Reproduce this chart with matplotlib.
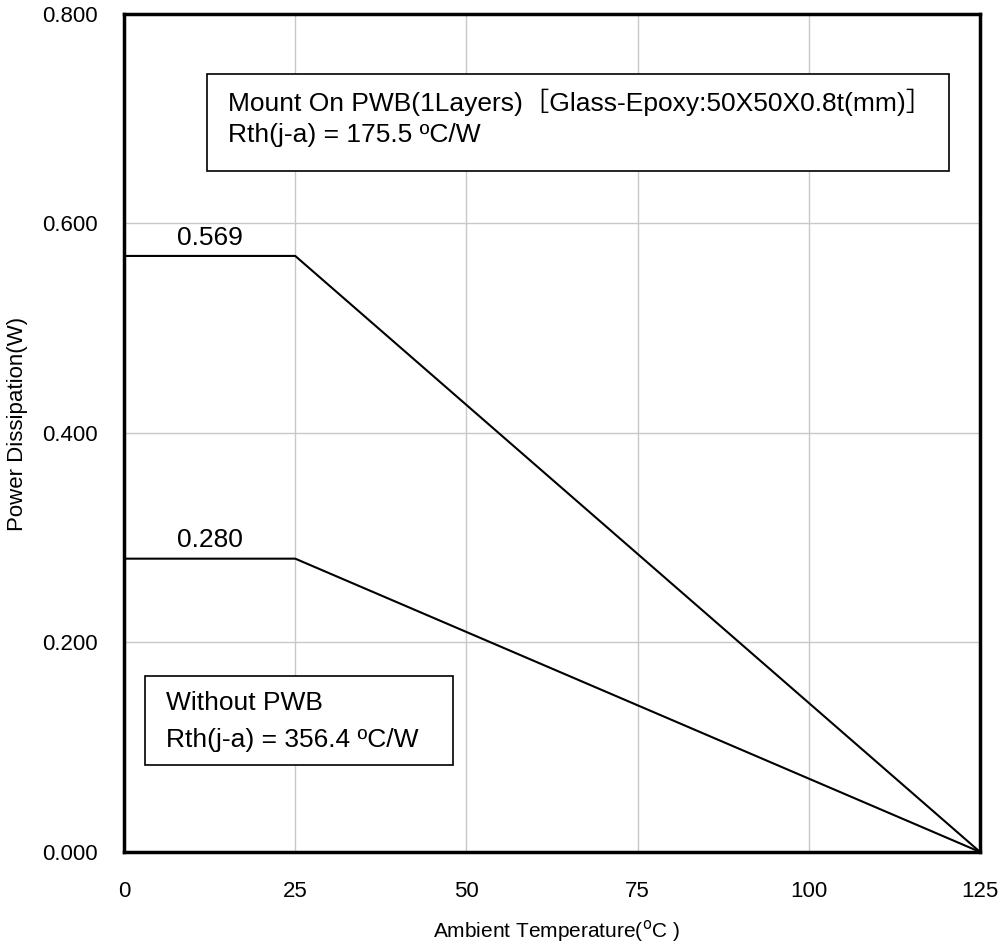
import matplotlib
matplotlib.use("Agg")
import matplotlib.pyplot as plt
from matplotlib.patches import Rectangle

# derating curves
temps = [0, 25, 125]
pd_pwb = [0.569, 0.569, 0.0]
pd_nopwb = [0.280, 0.280, 0.0]

x_ticks = [0, 25, 50, 75, 100, 125]
y_ticks = [0.0, 0.2, 0.4, 0.6, 0.8]

fonts = ['Liberation Sans', 'Noto Sans CJK JP', 'DejaVu Sans']
plt.rcParams['font.family'] = fonts

fig = plt.figure(figsize=(10.06, 9.5), dpi=100)
ax = fig.add_axes([0.1233, 0.1032, 0.8509, 0.8821])

ax.plot(temps, pd_pwb, color='black', lw=1.5, zorder=3)
ax.plot(temps, pd_nopwb, color='black', lw=1.5, zorder=3)

ax.set_xlim(0, 125)
ax.set_ylim(0, 0.8)
ax.set_xticks(x_ticks)
ax.set_yticks(y_ticks)
ax.set_yticklabels([f"{v:.3f}" for v in y_ticks], fontsize=16)
ax.set_xticklabels([str(v) for v in x_ticks], fontsize=16)
ax.tick_params(axis='x', length=0, pad=21)
ax.tick_params(axis='y', length=0, pad=19)
ax.grid(True, color='#c8c8c8', lw=1)
ax.set_axisbelow(True)
for s in ax.spines.values():
    s.set_linewidth(2.5)

ax.set_xlabel('Ambient Temperature($^{\\mathrm{o}}$C )', fontsize=15)
ax.xaxis.set_label_coords(0.505, -0.079)
ax.set_ylabel('Power Dissipation(W)', fontsize=16)
ax.yaxis.set_label_coords(-0.112, 0.511)

# value labels
ax.text(12.5, 0.5866, '0.569', fontsize=19, ha='center', va='center')
ax.text(12.6, 0.298, '0.280', fontsize=19, ha='center', va='center')

# info boxes
ax.add_patch(Rectangle((12.1, 0.650), 108.4, 0.093, fill=True, fc='white',
                       ec='black', lw=1.2, zorder=4))
ax.text(15.2, 0.716, 'Mount On PWB(1Layers)［Glass-Epoxy:50X50X0.8t(mm)］',
        fontsize=19, va='center', zorder=5)
ax.text(15.2, 0.6845, 'Rth(j-a) = 175.5 ºC/W', fontsize=19, va='center', zorder=5)

ax.add_patch(Rectangle((3.1, 0.083), 44.9, 0.085, fill=True, fc='white',
                       ec='black', lw=1.2, zorder=4))
ax.text(6.1, 0.142, 'Without PWB', fontsize=19, va='center', zorder=5)
ax.text(6.1, 0.107, 'Rth(j-a) = 356.4 ºC/W', fontsize=19, va='center', zorder=5)

fig.savefig('out.png', dpi=100)
